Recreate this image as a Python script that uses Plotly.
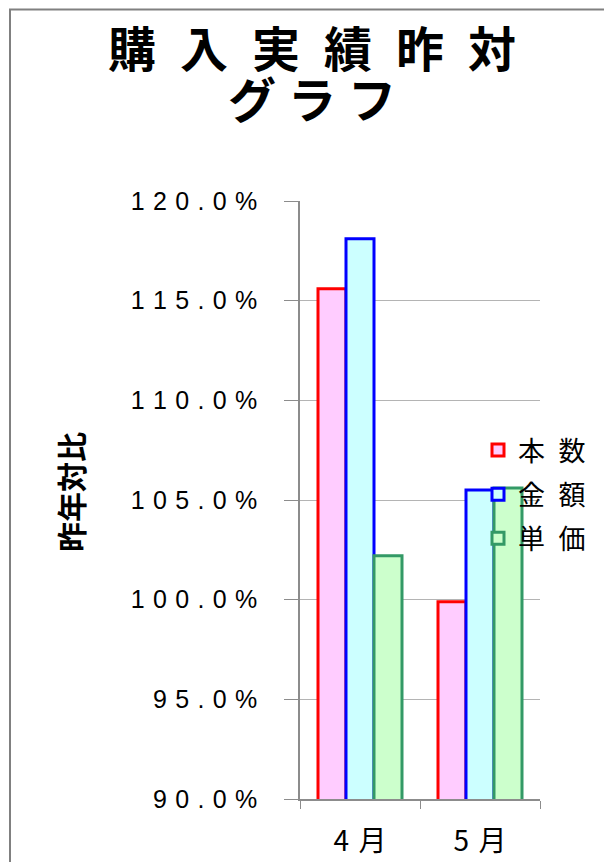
import plotly.graph_objects as go

# ---- data ----
categories = ["4月", "5月"]
series_names = ["本数", "金額", "単価"]
honsu = [115.6, 99.9]
kingaku = [118.1, 105.5]
tanka = [102.2, 105.6]
y_tick_values = [90, 95, 100, 105, 110, 115, 120]
y_tick_labels = ["90.0%", "95.0%", "100.0%", "105.0%", "110.0%", "115.0%", "120.0%"]
title_lines = ["購入実績昨対", "グラフ"]
y_title = "昨年対比"

# ---- styles ----
fills = ["#FFCCFF", "#CCFFFF", "#CCFFCC"]
lines = ["#FF0000", "#0000FF", "#339966"]

def spaced(s, sp="\u2004"):
    return sp.join(list(s))

OFF = 8                      # page body margin
W, H = 612 - OFF, 862 - OFF
PL, PR, PT, PB = 300, 540, 201, 799   # plot area in page pixels
L, R, T, B = PL - OFF, 612 - PR, PT - OFF, 862 - PB
pw, ph = PR - PL, PB - PT
def px(x):
    return (x - PL) / pw
def py(y):
    return (PB - y) / ph

fig = go.Figure()
for name, vals, fc, lc in zip(series_names, [honsu, kingaku, tanka], fills, lines):
    fig.add_trace(go.Bar(
        x=categories, y=vals, name=spaced(name, "\u2002"), legendgroup=name,
        marker=dict(color=fc, line=dict(color=lc, width=3)),
    ))

fig.update_layout(
    width=W, height=H,
    margin=dict(l=L, r=R, t=T, b=B, pad=0, autoexpand=False),
    paper_bgcolor="white", plot_bgcolor="white",
    barmode="group", bargap=0.3, bargroupgap=0,
    showlegend=True,
    legend=dict(
        x=px(478), y=py(426), xanchor="left", yanchor="top",
        bgcolor="rgba(0,0,0,0)",
        font=dict(family="Noto Sans CJK JP", size=27, color="black"),
        tracegroupgap=6, itemwidth=30,
    ),
    xaxis=dict(
        automargin=False,
        showline=True, linecolor="#8c8c8c", linewidth=1.5,
        ticks="outside", tickson="boundaries", ticklen=8, tickcolor="#8c8c8c",
        tickvals=categories, ticktext=[spaced(c) for c in categories],
        tickfont=dict(family="Noto Sans CJK JP", size=28, color="black"),
        ticklabelstandoff=17,
        showgrid=False,
    ),
    yaxis=dict(
        automargin=False,
        range=[90, 120],
        showline=True, linecolor="#8c8c8c", linewidth=1.5,
        ticks="outside", ticklen=14, tickcolor="#8c8c8c",
        tickvals=y_tick_values, ticktext=[spaced(t) for t in y_tick_labels],
        tickfont=dict(family="Liberation Sans", size=25, color="black"),
        ticklabelstandoff=22,
        showgrid=True, gridcolor="#b4b4b4", gridwidth=1.2,
        zeroline=False,
    ),
)

# title lines
for txt, yy, sp in zip(title_lines, [46, 97], ["\u2002", "\u2005"]):
    fig.add_annotation(
        text=spaced(txt, sp),
        xref="paper", yref="paper",
        x=px(312), y=py(yy), xanchor="center", yanchor="middle",
        showarrow=False, align="center",
        font=dict(family="Noto Sans CJK JP", size=48, color="black", weight="bold"),
    )

# y-axis title
fig.add_annotation(
    text=y_title, xref="paper", yref="paper",
    x=px(70), y=py(492), xanchor="center", yanchor="middle",
    textangle=-90, showarrow=False,
    font=dict(family="Noto Sans CJK JP", size=30, color="black", weight="bold"),
)

# outer chart frame
fig.add_shape(
    type="rect", xref="paper", yref="paper",
    x0=px(10), y0=py(9.5), x1=px(700), y1=py(950),
    line=dict(color="#808080", width=2), fillcolor="rgba(0,0,0,0)", layer="below",
)

fig.write_html("out.html")
